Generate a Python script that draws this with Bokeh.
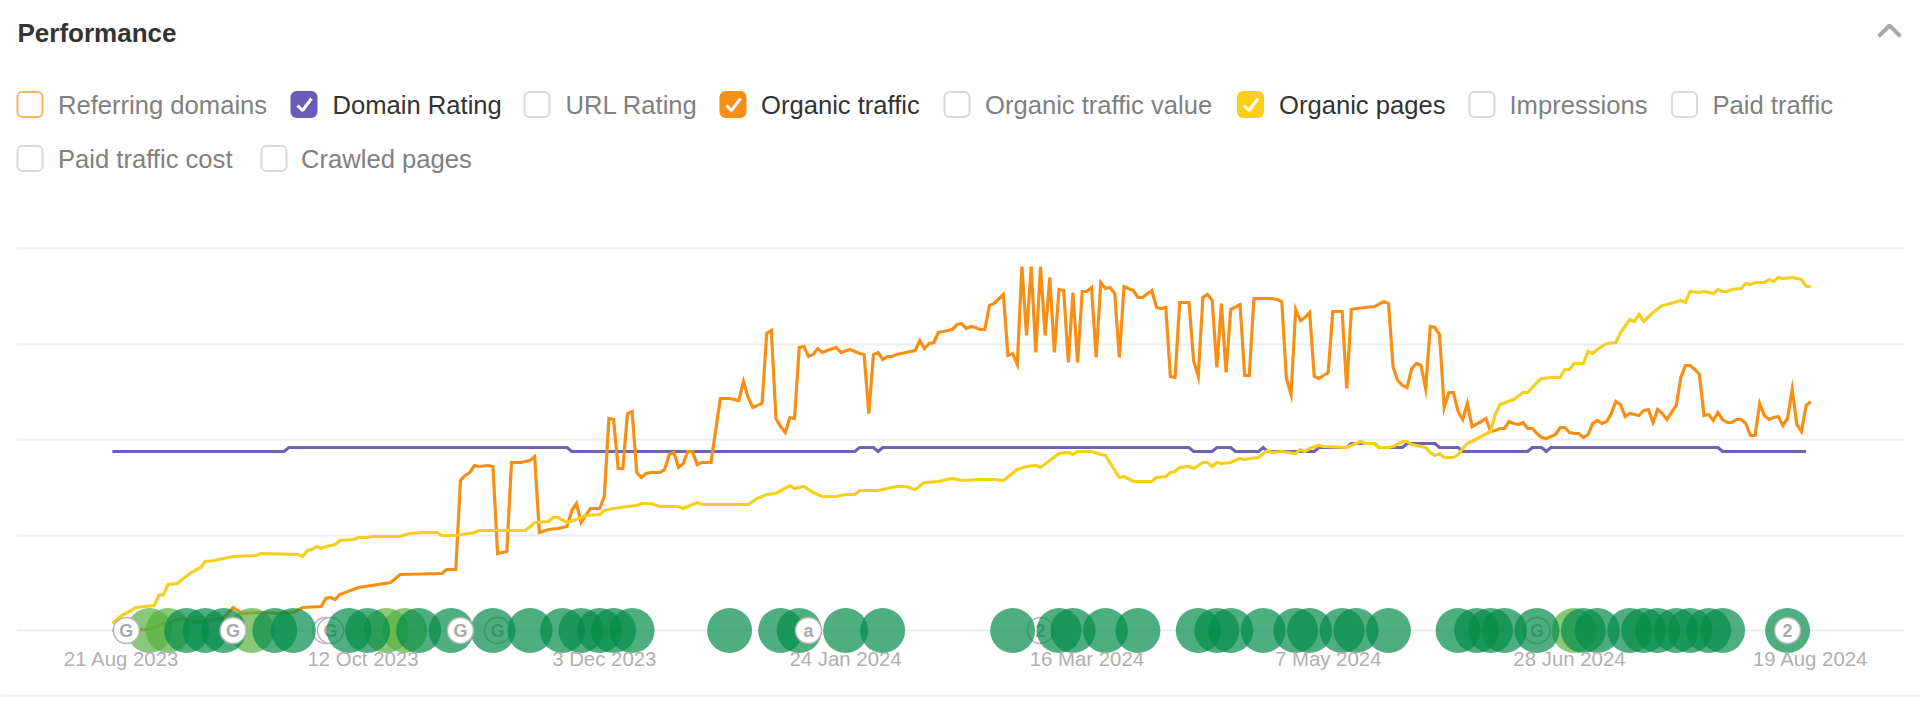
from bokeh.core.properties import value
from bokeh.embed import file_html
from bokeh.layouts import column
from bokeh.models import FixedTicker, LinearAxis, Range1d
from bokeh.plotting import figure
from bokeh.resources import INLINE

# series: (day since 19 Aug 2023, height on the unlabelled y scale)
domain_rating = [(0, 179), (37, 179), (38, 183), (98, 183), (99, 179), (160, 179), (161, 183), (164, 183), (165, 179),
                 (166, 183), (232, 183), (233, 179), (237, 179), (238, 183), (241, 183), (242, 179), (247, 179),
                 (248, 183), (249, 179), (259, 179), (260, 183), (266, 183), (267, 187), (272, 187), (273, 183),
                 (278, 183), (279, 187), (285, 187), (286, 183), (290, 183), (291, 179), (305, 179), (306, 183),
                 (308, 183), (309, 179), (310, 183), (346, 183), (347, 179), (365, 179)]

organic_traffic = [(0, 0), (6, 1), (8, 1), (11, 7), (15, 12), (18, 8), (24, 13), (26, 23), (28, 17), (32, 18), (36, 17),
                   (39, 18), (41, 23), (45, 24), (46, 32), (47, 33), (48, 31), (49, 36), (53, 43), (60, 48), (62, 56),
                   (71, 57), (72, 61), (74, 61), (75, 150), (76, 155), (77, 158), (78, 165), (79, 164), (81, 165),
                   (82, 164), (83, 77), (85, 79), (86, 168), (88, 168), (90, 170), (91, 174), (92, 98), (94, 101),
                   (96, 102), (98, 104), (99, 120), (100, 127), (101, 108), (103, 122), (105, 122), (106, 134),
                   (107, 212), (108, 211), (109, 162), (110, 162), (111, 217), (112, 219), (113, 158), (114, 153),
                   (115, 157), (116, 158), (118, 158), (119, 161), (120, 176), (121, 178), (122, 163), (123, 167),
                   (124, 179), (125, 179), (126, 166), (127, 168), (129, 168), (130, 200), (131, 232), (133, 232),
                   (135, 230), (136, 249), (137, 233), (138, 223), (140, 227), (141, 297), (142, 300), (143, 212),
                   (144, 204), (145, 198), (146, 213), (147, 212), (148, 283), (149, 284), (150, 274), (151, 276),
                   (152, 282), (153, 278), (154, 280), (156, 283), (157, 278), (159, 281), (160, 279), (161, 277),
                   (162, 276), (163, 217), (164, 276), (165, 278), (166, 271), (167, 274), (168, 274), (169, 276),
                   (170, 277), (172, 279), (173, 280), (174, 290), (175, 282), (176, 287), (177, 288), (178, 298),
                   (179, 299), (180, 300), (181, 301), (182, 306), (183, 307), (184, 302), (185, 304), (186, 303),
                   (187, 301), (188, 301), (189, 325), (190, 327), (192, 336), (193, 275), (194, 277), (195, 266),
                   (196, 364), (197, 295), (198, 364), (199, 278), (200, 364), (201, 295), (202, 353), (203, 278),
                   (204, 341), (205, 340), (206, 268), (207, 338), (208, 268), (209, 339), (210, 339), (211, 343),
                   (212, 273), (213, 348), (214, 342), (215, 343), (216, 337), (217, 273), (218, 344), (220, 340),
                   (221, 333), (222, 333), (224, 340), (225, 323), (226, 322), (227, 323), (228, 254), (229, 253),
                   (230, 328), (232, 328), (233, 270), (234, 254), (235, 333), (236, 336), (237, 330), (238, 263),
                   (239, 327), (240, 258), (241, 321), (243, 326), (244, 255), (245, 255), (246, 332), (250, 332),
                   (251, 331), (252, 329), (253, 252), (254, 236), (255, 321), (256, 310), (257, 313), (258, 318),
                   (259, 254), (260, 252), (261, 255), (262, 258), (263, 319), (265, 319), (266, 242), (267, 321),
                   (268, 322), (270, 323), (272, 324), (274, 329), (275, 327), (276, 263), (277, 250), (278, 245),
                   (279, 243), (280, 262), (281, 267), (282, 265), (283, 242), (284, 304), (285, 303), (286, 296),
                   (287, 223), (288, 238), (289, 238), (290, 219), (291, 211), (292, 227), (293, 204), (295, 209),
                   (296, 212), (297, 199), (298, 200), (299, 202), (300, 202), (301, 209), (302, 207), (303, 206),
                   (304, 208), (305, 202), (306, 202), (307, 197), (308, 193), (309, 192), (311, 196), (312, 203),
                   (313, 203), (314, 198), (315, 197), (316, 197), (317, 193), (318, 196), (319, 207), (320, 210),
                   (321, 207), (322, 209), (323, 217), (324, 229), (325, 226), (326, 214), (327, 217), (329, 215),
                   (330, 220), (331, 221), (332, 208), (333, 221), (334, 217), (335, 211), (336, 218), (337, 225),
                   (338, 253), (339, 265), (340, 265), (341, 261), (342, 256), (343, 215), (344, 216), (345, 210),
                   (346, 218), (347, 211), (348, 208), (349, 208), (350, 211), (351, 211), (352, 207), (353, 195),
                   (354, 195), (355, 227), (356, 215), (357, 211), (358, 213), (359, 214), (360, 205), (361, 212),
                   (362, 241), (363, 206), (364, 199), (365, 225), (366, 229)]

organic_pages = [(0, 7), (2, 15), (4, 20), (5, 23), (7, 24), (9, 25), (10, 35), (11, 36), (12, 46), (14, 47), (15, 51),
                 (17, 58), (19, 63), (20, 69), (22, 70), (24, 72), (26, 74), (31, 75), (32, 77), (40, 76), (41, 74),
                 (42, 80), (43, 81), (44, 84), (45, 82), (46, 84), (48, 86), (49, 90), (52, 91), (53, 93), (55, 93),
                 (56, 94), (62, 94), (64, 97), (67, 98), (70, 98), (71, 95), (74, 95), (78, 98), (79, 100), (89, 100),
                 (91, 108), (94, 109), (95, 113), (96, 113), (98, 108), (100, 111), (102, 115), (105, 116), (106, 120),
                 (108, 122), (111, 124), (113, 125), (114, 127), (116, 127), (118, 124), (122, 124), (123, 122),
                 (126, 128), (127, 126), (137, 126), (139, 132), (141, 136), (143, 137), (146, 145), (147, 142),
                 (149, 144), (151, 138), (153, 134), (156, 134), (158, 136), (160, 136), (161, 140), (165, 140),
                 (167, 142), (169, 144), (171, 144), (173, 141), (175, 148), (178, 149), (181, 152), (183, 150),
                 (187, 151), (190, 151), (192, 150), (195, 161), (197, 164), (199, 165), (200, 163), (202, 170),
                 (204, 177), (206, 178), (207, 176), (208, 179), (211, 179), (213, 176), (214, 175), (216, 160),
                 (217, 153), (218, 154), (220, 149), (224, 149), (225, 153), (227, 154), (228, 158), (229, 159),
                 (230, 163), (232, 164), (233, 162), (235, 168), (236, 168), (237, 164), (238, 168), (239, 167),
                 (241, 168), (243, 172), (244, 171), (245, 172), (247, 173), (248, 177), (249, 180), (250, 178),
                 (252, 179), (255, 177), (256, 181), (257, 179), (258, 182), (260, 185), (261, 184), (266, 183),
                 (268, 187), (269, 189), (270, 187), (272, 187), (273, 183), (275, 183), (276, 184), (278, 189),
                 (279, 189), (280, 186), (283, 183), (284, 178), (285, 175), (286, 177), (287, 173), (289, 173),
                 (290, 176), (291, 182), (292, 187), (295, 194), (297, 199), (298, 216), (299, 226), (302, 231),
                 (304, 238), (305, 238), (307, 248), (308, 252), (310, 253), (312, 253), (313, 261), (314, 261),
                 (315, 267), (317, 267), (318, 279), (319, 277), (320, 281), (322, 287), (324, 288), (325, 298),
                 (327, 311), (328, 309), (329, 316), (330, 309), (332, 318), (334, 325), (335, 326), (338, 330),
                 (339, 328), (340, 339), (342, 338), (343, 339), (345, 337), (346, 341), (347, 339), (348, 339),
                 (349, 341), (351, 342), (352, 347), (353, 346), (354, 348), (356, 348), (357, 351), (358, 349),
                 (359, 353), (360, 352), (362, 353), (363, 352), (364, 351), (365, 344), (366, 344)]

# event bubbles on the baseline
green_days = [16, 20, 24, 35, 39, 51, 55, 66, 73, 82, 90, 97, 101, 105, 108, 112, 133, 144, 148, 158, 166, 194, 204,
              207, 214, 221, 234, 238, 241, 248, 255, 258, 265, 268, 275, 290, 294, 297, 300, 307, 317, 320, 327, 330,
              333, 337, 340, 344, 347, 361]
light_green_days = [8, 12, 30, 59, 63, 315]
marker_under_days = [46, 47, 83, 200, 307]
marker_under_text = ["", "G", "G", "2", "G"]
marker_top_days = [3, 26, 75, 150, 361]
marker_top_text = ["G", "G", "G", "a", "2"]

tick_days = [2, 54, 106, 158, 210, 262, 314, 366]
tick_labels = ["21 Aug 2023", "12 Oct 2023", "3 Dec 2023", "24 Jan 2024", "16 Mar 2024", "7 May 2024", "28 Jun 2024",
               "19 Aug 2024"]
grid_values = [0, 95.5, 191, 286.5, 382]

legend_labels = ["Referring domains", "Domain Rating", "URL Rating", "Organic traffic", "Organic traffic value",
                 "Organic pages", "Impressions", "Paid traffic", "Paid traffic cost", "Crawled pages"]
legend_box_x = [17, 291, 524, 720, 944, 1237.5, 1469, 1671.5, 17, 261]
legend_text_x = [57.5, 332, 565, 760.5, 984.5, 1278.5, 1509, 1712, 57.5, 300.5]
legend_y = [104, 104, 104, 104, 104, 104, 104, 104, 158, 158]
legend_active = [False, True, False, True, False, True, False, False, False, False]
legend_fill = [None, "#6b5bb8", None, "#f98e14", None, "#f9cf17", None, None, None, None]
legend_line = ["#f4b463", "#6b5bb8", "#d9d9d9", "#f98e14", "#d9d9d9", "#f9cf17", "#d9d9d9", "#d9d9d9", "#d9d9d9", "#d9d9d9"]

FONT = value("Liberation Sans")

# header with title and series check boxes, in page pixels
header = figure(width=1920, height=200, x_range=Range1d(0, 1920), y_range=Range1d(200, 0),
                x_axis_location=None, y_axis_location=None, toolbar_location=None, tools="",
                output_backend="svg", min_border=0, outline_line_color=None)
header.frame_align = False
header.grid.visible = False

header.text(x=[17], y=[32], text=["Performance"], text_font=FONT, text_font_style="bold", text_font_size="26px",
            text_color="#333333", text_baseline="middle")
header.text(x=legend_text_x, y=legend_y, text=legend_labels, text_font=FONT, text_font_size="25.6px",
            text_baseline="middle", text_color=["#333333" if a else "#808080" for a in legend_active])
header.quad(left=legend_box_x, right=[v + 25 for v in legend_box_x],
            top=[v - 12.5 for v in legend_y], bottom=[v + 12.5 for v in legend_y],
            fill_color=[c if c else "#ffffff" for c in legend_fill], line_color=legend_line, line_width=2,
            border_radius=5)
ticks_x = [[x + 6, x + 11, x + 20] for x, a in zip(legend_box_x, legend_active) if a]
ticks_y = [[y + 1, y + 6, y - 6] for y, a in zip(legend_y, legend_active) if a]
header.multi_line(ticks_x, ticks_y, line_color="white", line_width=3)
header.line([1878, 1889, 1900], [36, 25, 36], line_color="#a9a9a9", line_width=4)

# chart, one y unit is one pixel
chart = figure(width=1920, height=485, x_range=Range1d(-20.67, 386.2), y_range=Range1d(-55, 430),
               x_axis_location=None, y_axis_location=None, toolbar_location=None, tools="",
               output_backend="svg", min_border_top=0, min_border_bottom=0, min_border_left=16, min_border_right=16,
               outline_line_color=None)
chart.frame_align = False
chart.xgrid.visible = False
chart.ygrid.ticker = FixedTicker(ticks=grid_values)
chart.ygrid.grid_line_color = "#eeeeee"
chart.ygrid.grid_line_width = 2

for series, color in [(domain_rating, "#6f62b6"), (organic_traffic, "#f98e14"), (organic_pages, "#f6cf1c")]:
    chart.line([d for d, v in series], [v for d, v in series], line_color=color, line_width=3.2, line_join="miter")

chart.scatter(marker_under_days, [0] * len(marker_under_days), marker="circle", size=26, fill_color="white",
              line_color="#b5b5b5", line_width=1.5)
chart.text(marker_under_days, [0] * len(marker_under_days), text=marker_under_text, text_font=FONT,
           text_font_style="bold", text_font_size="18px", text_color="#aaaaaa", text_align="center",
           text_baseline="middle")
chart.scatter(light_green_days, [0] * len(light_green_days), marker="circle", size=45, fill_color="#58b040",
              fill_alpha=0.7, line_color=None)
chart.scatter(green_days, [0] * len(green_days), marker="circle", size=45, fill_color="#048b48", fill_alpha=0.7,
              line_color=None)
chart.scatter(marker_top_days, [0] * len(marker_top_days), marker="circle", size=26, fill_color="white",
              line_color="#b5b5b5", line_width=1.5)
chart.text(marker_top_days, [0] * len(marker_top_days), text=marker_top_text, text_font=FONT, text_font_style="bold",
           text_font_size="18px", text_color="#a8a8a8", text_align="center", text_baseline="middle")

xaxis = LinearAxis(fixed_location=0, ticker=FixedTicker(ticks=tick_days),
                   major_label_overrides=dict(zip(tick_days, tick_labels)))
xaxis.axis_line_color = None
xaxis.major_tick_line_color = None
xaxis.minor_tick_line_color = None
xaxis.major_label_standoff = 11
xaxis.major_label_text_font = "Liberation Sans"
xaxis.major_label_text_font_size = "20.4px"
xaxis.major_label_text_color = "#b0b0b0"
chart.add_layout(xaxis, "below")

# bottom rule of the card
footer = figure(width=1920, height=20, x_range=Range1d(0, 1920), y_range=Range1d(705, 685),
                x_axis_location=None, y_axis_location=None, toolbar_location=None, tools="",
                output_backend="svg", min_border=0, outline_line_color=None)
footer.frame_align = False
footer.grid.visible = False
footer.line([0, 1920], [695, 695], line_color="#eeeeee", line_width=2)

p = column(header, chart, footer, spacing=0)
open("out.html", "w").write(file_html(p, INLINE))
